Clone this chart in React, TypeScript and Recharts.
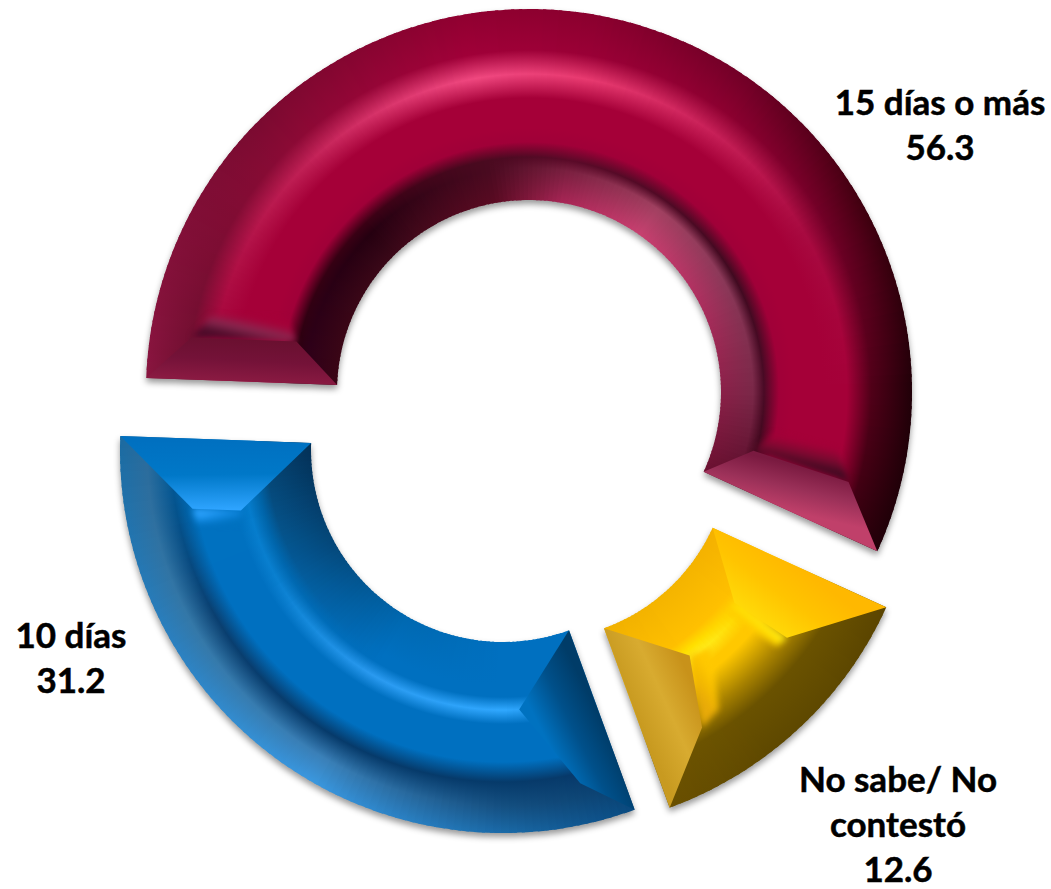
import React from 'react';
import { PieChart, Pie } from 'recharts';

const categories = ['15 días o más', 'No sabe/ No contestó', '10 días'];
const values = [56.3, 12.6, 31.2];

const labelLines = [['15 días o más'], ['No sabe/ No', 'contestó'], ['10 días']];
const labelSpots = [
  { x: 940, y: 115 },
  { x: 898, y: 792 },
  { x: 71, y: 648 },
];
const explode = [
  { dx: 0, dy: 0 },
  { dx: 9, dy: 56 },
  { dx: -26, dy: 58 },
];

const rows = categories.map((name, i) => ({ name, value: values[i] }));

// angle, innerEdge, innerMid, crease, faceIn, face, ridge, bandIn, outerEdge
type Row = [number, string, string, string, string, string, string, string, string];

const redShade: Row[] = [
  [178, '#3a0515', '#30001a', '#2a0010', '#a00038', '#a50038', '#a00036', '#6e1030', '#8a1540'],
  [135, '#3a0818', '#250010', '#3a0014', '#a00038', '#a50038', '#c02055', '#8a0a35', '#7a0a30'],
  [100, '#5a0a22', '#4a0a20', '#4a0a20', '#a00038', '#a50038', '#f04880', '#a00038', '#900030'],
  [80, '#a82555', '#7a2040', '#5a0a28', '#a00038', '#a50038', '#e83a70', '#9a0036', '#8a002e'],
  [55, '#c84070', '#a04060', '#500a25', '#a00038', '#a50038', '#c82058', '#8c0030', '#700026'],
  [30, '#b03060', '#8a3858', '#400a20', '#a00038', '#a50038', '#a80a40', '#700026', '#40000f'],
  [0, '#8a2048', '#7a2848', '#4a0a25', '#a00038', '#a50038', '#a50038', '#500018', '#200008'],
  [-25, '#6a1030', '#5a0a28', '#3a0818', '#a00038', '#a50038', '#a50038', '#3a0010', '#200008'],
];

const yellowShade: Row[] = [
  [-24, '#f4b000', '#fcbc00', '#ffc400', '#ffc800', '#ffc800', '#b08a00', '#6a5200', '#5a4400'],
  [-40, '#f4b400', '#ffc000', '#ffd000', '#ffd800', '#ffc800', '#a88200', '#6a5200', '#5e4800'],
  [-52, '#f4b400', '#ffc000', '#ffe000', '#fff020', '#ffc800', '#a88200', '#6a5200', '#5e4800'],
  [-71, '#f0b000', '#fcbc00', '#ffc400', '#ffc800', '#ffc800', '#b08a00', '#6e5400', '#6a5000'],
];

const blueShade: Row[] = [
  [-70, '#0070c0', '#0070c0', '#0070c0', '#1a8ce0', '#0070c0', '#08396a', '#0a4070', '#0a4a80'],
  [-90, '#0070c0', '#0070c0', '#0070c0', '#30a8ff', '#0070c0', '#063a6a', '#144f80', '#1a6aa8'],
  [-120, '#0068b0', '#0070c0', '#0070c0', '#2a9af0', '#0070c0', '#063a6a', '#3a80b8', '#3a98e0'],
  [-150, '#04487a', '#045a98', '#0068b0', '#0a80d0', '#0070c0', '#0a3f70', '#3478a8', '#2a80c0'],
  [-183, '#032f55', '#06406a', '#0060a0', '#0078c8', '#0072c0', '#0060a0', '#2a6a9a', '#1a6aa0'],
];

interface EndFacet {
  rIn: number;
  rOut: number;
  dIn: number;
  dOut: number;
  colors: string[];
  strip?: string[];
  depth?: number;
  shrink?: number;
}

const looks: { shade: Row[]; rIn: number; rOut: number; inSoft: number; outSoft: number; first: EndFacet; last: EndFacet }[] = [
  {
    shade: redShade,
    rIn: 236,
    rOut: 324,
    inSoft: 14,
    outSoft: 24,
    first: { rIn: 238, rOut: 342, dIn: 42, dOut: 42, colors: ['#8a1a42', '#741238', '#6a1030'], strip: ['#4a0a28', '#8a2850', '#a50038'], depth: 22, shrink: 0.7 },
    last: { rIn: 232, rOut: 332, dIn: 40, dOut: 51, colors: ['#c0406a', '#9a3058', '#7a1a40'], strip: ['#3a0a20', '#7a0a30', '#a50038'], depth: 24, shrink: 0.7 },
  },
  {
    shade: yellowShade,
    rIn: 252,
    rOut: 318,
    inSoft: 8,
    outSoft: 30,
    first: { rIn: 250, rOut: 313, dIn: 59, dOut: 69, colors: ['#ffb800', '#ffc400', '#ffd808'], strip: ['#ffec18', '#ffdc00', '#ffc800'], depth: 12, shrink: 0.2 },
    last: { rIn: 257, rOut: 324, dIn: 71, dOut: 58, colors: ['#c89a20', '#d8ab30', '#c8921a'], strip: ['#e8aa08', '#f4ba00', '#ffc800'], depth: 22, shrink: 0.3 },
  },
  {
    shade: blueShade,
    rIn: 248,
    rOut: 338,
    inSoft: 12,
    outSoft: 20,
    first: { rIn: 260, rOut: 342, dIn: 74, dOut: 42, colors: ['#003c68', '#00508a', '#0072c0'] },
    last: { rIn: 269, rOut: 316, dIn: 70, dOut: 70, colors: ['#0070c0', '#0078c8', '#2ea4ff'], strip: ['#2ea4ff', '#1088e0', '#0072c0'], depth: 14, shrink: 0.1 },
  },
];

const toRgb = (hex: string) => [1, 3, 5].map((i) => parseInt(hex.slice(i, i + 2), 16));
const mix = (a: string, b: string, t: number) => {
  const ca = toRgb(a);
  const cb = toRgb(b);
  return `rgb(${ca.map((v, i) => Math.round(v + (cb[i] - v) * t)).join(',')})`;
};

const shadeAt = (table: Row[], angle: number) => {
  for (let i = 0; i < table.length - 1; i++) {
    const hi = table[i];
    const lo = table[i + 1];
    if (angle <= hi[0] && angle >= lo[0]) {
      const t = (hi[0] - angle) / (hi[0] - lo[0]);
      return hi.slice(1).map((c, k) => mix(c as string, lo[k + 1] as string, t));
    }
  }
  const edge = angle > table[0][0] ? table[0] : table[table.length - 1];
  return edge.slice(1).map((c) => mix(c as string, c as string, 0));
};

const RAD = Math.PI / 180;

const BevelSector = (props: any) => {
  const { startAngle, endAngle, innerRadius, outerRadius, index } = props;
  const look = looks[index];
  const cx = props.cx + explode[index].dx;
  const cy = props.cy + explode[index].dy;
  const at = (r: number, a: number) => [cx + r * Math.cos(a * RAD), cy - r * Math.sin(a * RAD)];
  const R = outerRadius;
  const r0 = innerRadius;

  const step = 1.2;
  const wedges: { a1: number; a2: number }[] = [];
  for (let a = startAngle; a > endAngle; a -= step) {
    wedges.push({ a1: a, a2: Math.max(a - step, endAngle) });
  }

  // radius of each colour stop, and which profile column it takes
  const stopsFor: [number, number][] = [
    [r0, 0],
    [look.rIn - 12, 1],
    [look.rIn - 1, 2],
    [look.rIn + look.inSoft, 3],
    [look.rIn + look.inSoft + 14, 4],
    [look.rOut - 6 - look.outSoft, 4],
    [look.rOut - 6, 5],
    [look.rOut + 18, 6],
    [R, 7],
  ];

  const facet = (f: EndFacet, edge: number, dir: number, key: string) => {
    const insetAt = (r: number, d: number) => at(r, edge + (dir * Math.asin(d / r)) / RAD);
    const oc = at(R, edge);
    const ic = at(r0, edge);
    const ii = insetAt(f.rIn, f.dIn);
    const oi = insetAt(f.rOut, f.dOut);
    const s = f.depth ?? 0;
    const shrink = f.shrink ?? 0;
    const is = insetAt(f.rIn + s * shrink, f.dIn + s);
    const os = insetAt(f.rOut - s * shrink, f.dOut + s);
    const mid = (p: number[], q: number[]) => [(p[0] + q[0]) / 2, (p[1] + q[1]) / 2];
    const m0 = mid(oc, ic);
    const m1 = mid(oi, ii);
    const m2 = mid(os, is);
    const idA = `facet-${index}-${key}`;
    const idB = `strip-${index}-${key}`;
    return (
      <g key={key}>
        <defs>
          <linearGradient id={idA} gradientUnits="userSpaceOnUse" x1={m0[0]} y1={m0[1]} x2={m1[0]} y2={m1[1]}>
            {f.colors.map((c, i) => (
              <stop key={i} offset={i / (f.colors.length - 1)} stopColor={c} />
            ))}
          </linearGradient>
          {f.strip && (
            <linearGradient id={idB} gradientUnits="userSpaceOnUse" x1={m1[0]} y1={m1[1]} x2={m2[0]} y2={m2[1]}>
              {f.strip.map((c, i) => (
                <stop key={i} offset={i / (f.strip!.length - 1)} stopColor={c} />
              ))}
            </linearGradient>
          )}
        </defs>
        {f.strip && (
          <polygon
            points={[ii, oi, os, is].map((p) => p.join(',')).join(' ')}
            fill={`url(#${idB})`}
            style={{ filter: 'blur(3px)' }}
          />
        )}
        <polygon points={[oc, ic, ii, oi].map((p) => p.join(',')).join(' ')} fill={`url(#${idA})`} />
      </g>
    );
  };

  return (
    <g style={{ filter: 'drop-shadow(0px 4px 3px rgba(0,0,0,0.4))' }}>
      {wedges.map((w, i) => {
        const colors = shadeAt(look.shade, (w.a1 + w.a2) / 2);
        const id = `wedge-${index}-${i}`;
        const a2 = i === wedges.length - 1 ? w.a2 : w.a2 - 0.5;
        const o1 = at(R, w.a1);
        const o2 = at(R, a2);
        const i1 = at(r0, w.a1);
        const i2 = at(r0, a2);
        return (
          <g key={id}>
            <defs>
              <radialGradient id={id} gradientUnits="userSpaceOnUse" cx={cx} cy={cy} r={R}>
                {stopsFor.map(([r, col], k) => (
                  <stop key={k} offset={r / R} stopColor={colors[col]} />
                ))}
              </radialGradient>
            </defs>
            <path
              d={`M${o1[0]},${o1[1]}A${R},${R} 0 0 1 ${o2[0]},${o2[1]}L${i2[0]},${i2[1]}A${r0},${r0} 0 0 0 ${i1[0]},${i1[1]}Z`}
              fill={`url(#${id})`}
            />
          </g>
        );
      })}
      {facet(look.first, startAngle, -1, 'first')}
      {facet(look.last, endAngle, 1, 'last')}
    </g>
  );
};

const renderLabel = (props: any) => {
  const spot = labelSpots[props.index];
  const lines = [...labelLines[props.index], props.value.toFixed(1)];
  return (
    <text
      key={props.index}
      x={spot.x}
      y={spot.y}
      textAnchor="middle"
      fontFamily="Lato, sans-serif"
      fontWeight={700}
      fontSize={35}
      fill="#000"
      stroke="#000"
      strokeWidth={0.5}
    >
      {lines.map((line: string, i: number) => (
        <tspan key={i} x={spot.x} dy={i === 0 ? 0 : 45}>
          {line}
        </tspan>
      ))}
    </text>
  );
};

export default function App() {
  return (
    <div style={{ position: 'absolute', left: 0, top: 0 }}>
      <PieChart width={1051} height={889} margin={{ top: 0, right: 0, bottom: 0, left: 0 }}>
        <Pie
          data={rows}
          dataKey="value"
          nameKey="name"
          cx={529}
          cy={392}
          innerRadius={192}
          outerRadius={383}
          startAngle={177.9}
          endAngle={-182.1}
          stroke="none"
          shape={BevelSector}
          label={renderLabel}
          labelLine={false}
          isAnimationActive={false}
        />
      </PieChart>
    </div>
  );
}
